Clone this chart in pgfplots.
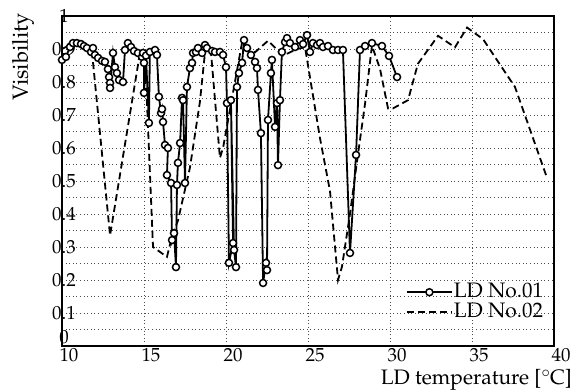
\documentclass[border=0pt]{standalone}
\usepackage[T1]{fontenc}
\usepackage{mathpazo}
\usepackage{pgfplots}
\pgfplotsset{compat=1.18}
\begin{document}
\begin{tikzpicture}
\begin{axis}[
  scale only axis, width=492bp, height=330bp,
  xmin=10, xmax=40, ymin=0, ymax=1,
  xtick={10,15,20,25,30,35,40},
  ytick={0,0.1,0.2,0.3,0.4,0.5,0.6,0.7,0.8,0.9,1},
  yticklabels={\raisebox{3bp}[0pt][0pt]{0},0.1,0.2,0.3,0.4,0.5,0.6,0.7,0.8,0.9,\raisebox{-2bp}{1}},
  minor ytick={0.05,0.15,0.25,0.35,0.45,0.55,0.65,0.75,0.85,0.95},
  grid=both,
  major grid style={black!70, line width=0.6bp, dash pattern=on 1bp off 2.6bp},
  minor grid style={black!70, line width=0.6bp, dash pattern=on 1bp off 2.6bp},
  major tick length=0pt, minor tick length=0pt,
  axis line style={line width=1.2bp},
  tick label style={font=\fontsize{19}{19}\selectfont},
  xticklabel style={anchor=north, inner sep=0pt, xshift=7bp, yshift=-2.5bp},
  yticklabel style={anchor=center, inner sep=0pt, xshift=2bp},
  ylabel={Visibility},
  ylabel style={font=\fontsize{22}{22}\selectfont, at={(axis description cs:-0.079,1.009)}, anchor=east, inner sep=0pt},
  xlabel={LD temperature [$^{\circ}$\kern-0.5pt C]},
  xlabel style={font=\fontsize{21}{21}\selectfont, at={(axis description cs:1.0366,-0.118)}, anchor=base east, inner sep=0pt},
  legend style={at={(axis description cs:0.98,0.073)}, anchor=south east, draw=none, fill=none, inner sep=0pt,
    font=\fontsize{21}{21}\selectfont, nodes={inner sep=1bp, text height=14bp, text depth=3bp}, row sep=1bp},
  legend cell align=left,
  legend image code/.code={\draw[mark repeat=2,mark phase=2,#1] plot coordinates {(0bp,0bp) (22.5bp,0bp) (45bp,0bp)};},
]
\addlegendimage{black, line width=1.8bp, mark=*, mark size=3.5bp, mark options={solid, fill=white, line width=1.5bp}}
\addlegendentry{LD No.01}
\addlegendimage{black, line width=1.8bp, dash pattern=on 7bp off 4bp}
\addlegendentry{LD No.02}

\addplot[black, line width=1.8bp, dash pattern=on 7bp off 4bp, forget plot] coordinates {
(10.0,0.9) (10.6,0.915) (11.2,0.915) (11.6,0.905) (11.85,0.88) (12.93,0.335) (14.76,0.89)
(15.0,0.85) (15.18,0.74) (15.55,0.3) (16.4,0.27) (16.7,0.33) (17.07,0.38) (17.8,0.54)
(18.41,0.74) (18.72,0.89) (18.9,0.91) (19.1,0.88) (19.63,0.57) (19.82,0.6) (20.98,0.92)
(21.77,0.89) (22.56,0.925) (23.48,0.88) (24.33,0.9) (24.82,0.905) (25.73,0.63) (26.34,0.47)
(26.83,0.2) (27.07,0.24) (27.56,0.4) (27.99,0.56) (28.48,0.735) (28.9,0.91) (29.39,0.84)
(29.88,0.72) (30.18,0.72) (31.1,0.745) (31.7,0.855) (32.93,0.94) (33.96,0.905) (34.7,0.965)
(35.67,0.93) (37.62,0.785) (39.57,0.51)
};

\addplot[black, line width=1.8bp, mark=*, mark size=3.5bp, mark options={solid, fill=white, line width=1.5bp}, forget plot] coordinates {
(10.0,0.867) (10.24,0.876) (10.49,0.906) (10.67,0.918) (10.91,0.918) (11.16,0.915) (11.34,0.909)
(11.52,0.903) (11.77,0.891) (11.89,0.903) (12.01,0.882) (12.2,0.873) (12.44,0.864) (12.62,0.861)
(12.8,0.839) (12.87,0.815) (12.93,0.797) (12.93,0.782) (13.11,0.888) (13.23,0.845) (13.35,0.827)
(13.48,0.806) (13.72,0.8) (13.84,0.897) (14.02,0.918) (14.21,0.906) (14.39,0.894) (14.63,0.888)
(14.88,0.876) (14.94,0.888) (15.0,0.858) (15.0,0.767) (15.12,0.88) (15.3,0.676) (15.36,0.891)
(15.67,0.897) (15.79,0.882) (15.91,0.755) (16.04,0.706) (16.1,0.718) (16.16,0.679) (16.28,0.609)
(16.46,0.6) (16.4,0.518) (16.65,0.494) (16.71,0.321) (16.83,0.342) (16.95,0.239) (17.01,0.488)
(17.07,0.555) (17.2,0.615) (17.32,0.752) (17.38,0.745) (17.5,0.494) (17.62,0.785) (17.8,0.842)
(17.93,0.858) (17.99,0.888) (18.17,0.891) (18.29,0.903) (18.54,0.888) (18.72,0.912) (18.84,0.903)
(19.15,0.894) (19.33,0.891) (19.63,0.891) (19.82,0.882) (20.0,0.845) (20.06,0.736) (20.18,0.252)
(20.43,0.312) (20.3,0.745) (20.49,0.291) (20.61,0.239) (20.67,0.785) (20.79,0.827) (20.98,0.858)
(21.1,0.927) (21.28,0.903) (21.52,0.882) (21.77,0.861) (21.89,0.842) (21.95,0.776) (22.13,0.645)
(22.26,0.191) (22.44,0.252) (22.5,0.23) (22.56,0.685) (22.74,0.827) (22.8,0.867) (22.99,0.664)
(23.11,0.736) (23.17,0.548) (23.29,0.745) (23.41,0.891) (23.6,0.921) (23.72,0.933) (23.9,0.918)
(24.21,0.906) (24.51,0.927) (24.7,0.915) (24.94,0.942) (25.12,0.891) (25.3,0.918) (25.55,0.912)
(25.73,0.918) (25.91,0.906) (26.22,0.909) (26.52,0.897) (26.83,0.897) (27.13,0.897) (27.56,0.282)
(27.93,0.579) (28.17,0.897) (28.48,0.909) (28.9,0.918) (29.51,0.909) (29.94,0.879) (30.43,0.815)
};
\end{axis}
\pgfresetboundingbox
\path[use as bounding box] ([shift={(-62bp,-45bp)}]current axis.south west) rectangle ([shift={(21bp,16bp)}]current axis.north east);
\end{tikzpicture}
\end{document}
